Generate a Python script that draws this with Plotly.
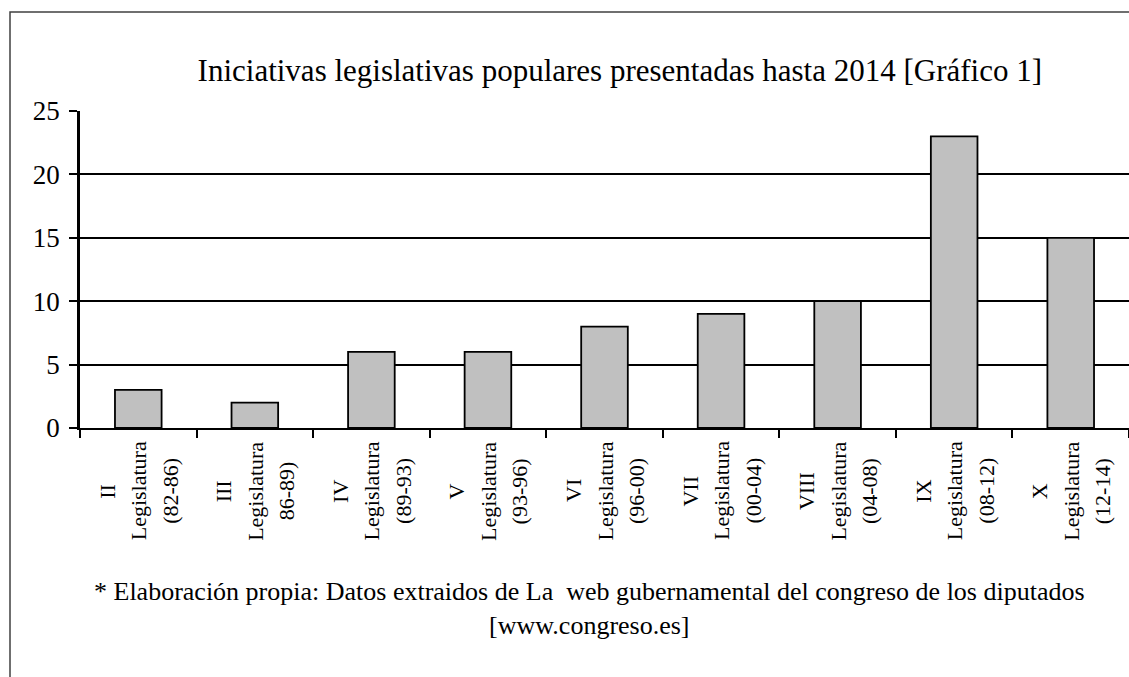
import plotly.graph_objects as go

categories = [
    "II<br>Legislatura<br>(82-86)",
    "III<br>Legislatura<br>86-89)",
    "IV<br>Legislatura<br>(89-93)",
    "V<br>Legislatura<br>(93-96)",
    "VI<br>Legislatura<br>(96-00)",
    "VII<br>Legislatura<br>(00-04)",
    "VIII<br>Legislatura<br>(04-08)",
    "IX<br>Legislatura<br>(08-12)",
    "X<br>Legislatura<br>(12-14)",
]
values = [3, 2, 6, 6, 8, 9, 10, 23, 15]
y_ticks = [0, 5, 10, 15, 20, 25]

FONT = "Liberation Serif"

fig = go.Figure()
fig.add_trace(go.Bar(
    x=categories, y=values, width=0.4,
    marker=dict(color="#C0C0C0", line=dict(color="black", width=1.8)),
    hoverinfo="y",
))

annotations = [dict(
    text="* Elaboración propia: Datos extraidos de La  web gubernamental del congreso de los diputados<br>[www.congreso.es]",
    xref="paper", yref="paper", x=(589 - 80) / 1049, y=-(608 - 428) / 317,
    xanchor="center", yanchor="middle", showarrow=False, align="center",
    font=dict(family=FONT, size=26, color="black"),
)]
LINE_GAP = 31.5
for c in categories:
    lines = c.split("<br>")
    n = len(lines)
    for i, line in enumerate(lines):
        annotations.append(dict(
            text=line, x=c, xref="x", yref="paper", y=-(491 - 428) / 317,
            xshift=(i - (n - 1) / 2) * LINE_GAP,
            xanchor="center", yanchor="middle", textangle=-90, align="center",
            showarrow=False, font=dict(family=FONT, size=22, color="black"),
        ))

fig.update_layout(
    width=1129, height=677,
    margin=dict(l=80, r=0, t=111, b=249),
    paper_bgcolor="white", plot_bgcolor="white",
    showlegend=False,
    font=dict(family=FONT, color="black"),
    title=dict(
        text="Iniciativas legislativas populares presentadas hasta 2014 [Gráfico 1]",
        x=0.549, xanchor="center", y=1 - 70 / 677, yanchor="middle",
        xref="container", yref="container",
        font=dict(family=FONT, size=31, color="black"),
    ),
    xaxis=dict(
        type="category", ticks="outside", ticklen=8,
        tickwidth=1.5, tickcolor="black", tickson="boundaries",
        showline=True, linecolor="black", linewidth=2,
        showgrid=False, showticklabels=False,
    ),
    yaxis=dict(
        range=[0, 25], tickvals=y_ticks, ticks="outside", ticklen=8,
        tickwidth=1.5, tickcolor="black", ticklabelstandoff=4,
        showline=True, linecolor="black", linewidth=2.5,
        showgrid=True, gridcolor="black", gridwidth=2,
        zeroline=False,
        tickfont=dict(family=FONT, size=27, color="black"),
    ),
    shapes=[dict(
        type="rect", xref="paper", yref="paper",
        x0=(10 - 80) / 1049, x1=1.05,
        y0=-0.9, y1=1 + (111 - 12) / 317,
        line=dict(color="#404040", width=1.5), fillcolor="rgba(0,0,0,0)",
        layer="below",
    )],
    annotations=annotations,
)

fig.write_html("out.html")
